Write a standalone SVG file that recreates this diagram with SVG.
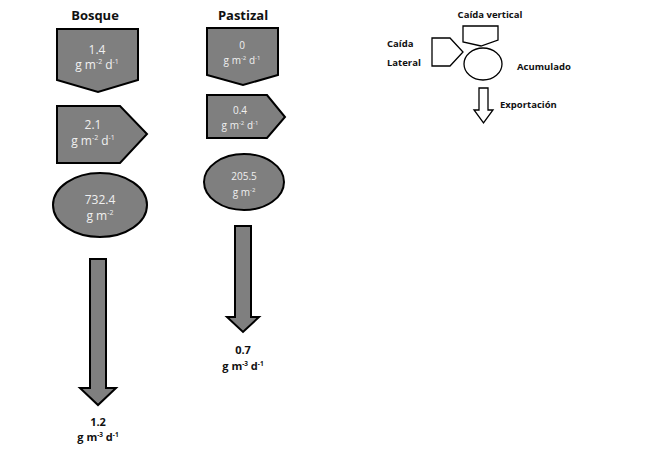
<svg xmlns="http://www.w3.org/2000/svg" width="650" height="455" viewBox="0 0 650 455">
<style>
.sh{fill:#7f7f7f;stroke:#000;stroke-width:2;stroke-linejoin:miter}
.lg{fill:#fff;stroke:#000;stroke-width:1.3}
.w{fill:#f0f0f0;font-family:"Open Sans","Liberation Sans",sans-serif;text-anchor:middle}
.b{fill:#111;font-family:"Open Sans","Liberation Sans",sans-serif;font-weight:bold;text-anchor:middle}
.l{fill:#111;font-family:"Open Sans","Liberation Sans",sans-serif;font-weight:bold;font-size:9.5px}
</style>
<rect width="650" height="455" fill="#fff"/>
<g id="bosque">
<text class="b" x="95" y="20" font-size="13">Bosque</text>
<g id="bosque-vertical">
<polygon class="sh" points="57,29 138,29 138,80 98,92 57,80"/>
<text class="w" x="97" y="54" font-size="12">1.4</text>
<text class="w" x="97" y="69" font-size="12">g m<tspan font-size="7" dy="-5">-2</tspan><tspan dy="5"> d</tspan><tspan font-size="7" dy="-5">-1</tspan></text>
</g>
<g id="bosque-lateral">
<polygon class="sh" points="57,106 120,106 147,134 120,163 57,163"/>
<text class="w" x="93" y="129" font-size="12">2.1</text>
<text class="w" x="93" y="145" font-size="12">g m<tspan font-size="7" dy="-5">-2</tspan><tspan dy="5"> d</tspan><tspan font-size="7" dy="-5">-1</tspan></text>
</g>
<g id="bosque-acumulado">
<ellipse class="sh" cx="100" cy="205" rx="47" ry="32"/>
<text class="w" x="100" y="204" font-size="12">732.4</text>
<text class="w" x="100" y="220" font-size="12">g m<tspan font-size="7" dy="-5">-2</tspan></text>
</g>
</g>
<g id="pastizal">
<text class="b" x="243" y="20" font-size="13">Pastizal</text>
<g id="pastizal-vertical">
<polygon class="sh" points="207,28 278,28 278,75 243,85 207,75"/>
<text class="w" x="242" y="49" font-size="10">0</text>
<text class="w" x="242" y="64" font-size="10">g m<tspan font-size="6" dy="-4">-2</tspan><tspan dy="4"> d</tspan><tspan font-size="6" dy="-4">-1</tspan></text>
</g>
<g id="pastizal-lateral">
<polygon class="sh" points="207,95 267,95 285,117 267,138 207,138"/>
<text class="w" x="240" y="114" font-size="10">0.4</text>
<text class="w" x="240" y="129" font-size="10">g m<tspan font-size="6" dy="-4">-2</tspan><tspan dy="4"> d</tspan><tspan font-size="6" dy="-4">-1</tspan></text>
</g>
<g id="pastizal-acumulado">
<ellipse class="sh" cx="244" cy="182" rx="40" ry="28"/>
<text class="w" x="244" y="180" font-size="10">205.5</text>
<text class="w" x="244" y="196" font-size="10">g m<tspan font-size="6" dy="-4">-2</tspan></text>
</g>
</g>
<g id="connectors">
<polygon class="sh" points="90,259 106,259 106,388 116,388 98,405 80,388 90,388"/>
<polygon class="sh" points="235,226 251,226 251,317 259,317 243,332 227,317 235,317"/>
<polygon class="lg" points="479,88 488,88 488,110 493,110 483.5,123 474,110 479,110"/>
</g>
<g id="export-labels">
<text class="b" x="98" y="426" font-size="11">1.2</text>
<text class="b" x="98" y="441" font-size="11">g m<tspan font-size="6.5" dy="-4">-3</tspan><tspan dy="4"> d</tspan><tspan font-size="6.5" dy="-4">-1</tspan></text>
<text class="b" x="243" y="354" font-size="11">0.7</text>
<text class="b" x="243" y="370" font-size="11">g m<tspan font-size="6.5" dy="-4">-3</tspan><tspan dy="4"> d</tspan><tspan font-size="6.5" dy="-4">-1</tspan></text>
</g>
<g id="legend">
<g id="legend-vertical">
<text class="l" x="490" y="18" text-anchor="middle">Caída vertical</text>
<polygon class="lg" points="463,26 498,26 498,40 481,46 463,42"/>
</g>
<g id="legend-lateral">
<text class="l" x="387" y="47">Caída</text>
<text class="l" x="387" y="66">Lateral</text>
<polygon class="lg" points="432,38 450,38 463,52 450,66 432,66"/>
</g>
<g id="legend-acumulado">
<ellipse class="lg" cx="483" cy="64" rx="19" ry="16"/>
<text class="l" x="517" y="70">Acumulado</text>
</g>
<text class="l" x="500" y="108">Exportación</text>
</g>
</svg>
